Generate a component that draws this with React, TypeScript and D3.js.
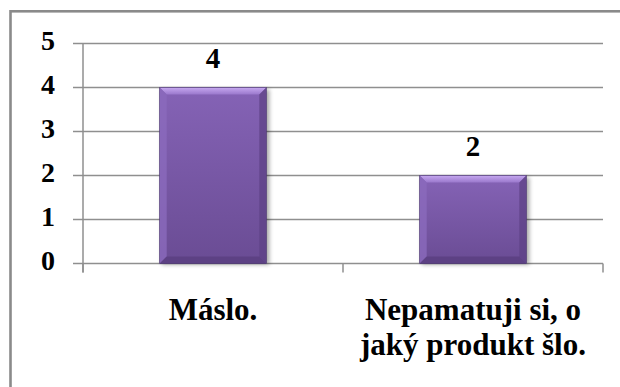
import React from "react";
import * as d3 from "d3";

// Answer counts per product
const categories: string[] = ["Máslo.", "Nepamatuji si, o jaký produkt šlo."];
const categoryLines: string[][] = [["Máslo."], ["Nepamatuji si, o", "jaký produkt šlo."]];
const values: number[] = [4, 2];
const yTicks: number[] = [0, 1, 2, 3, 4, 5];

const W = 620;
const H = 387;
const plot = { left: 83, right: 603, top: 43.5, bottom: 263.5 };
const FONT = "Liberation Serif";
const GRID = "#8f8f8f";

export default function App() {
  const x = d3.scaleBand<string>().domain(categories).range([plot.left, plot.right]).padding(0);
  const y = d3.scaleLinear().domain([0, 5]).range([plot.bottom, plot.top]);
  const barW = x.bandwidth() * 0.41;
  const bev = 7;

  return (
    <svg
      width={W}
      height={H}
      style={{ position: "absolute", left: 0, top: 0, background: "#fff" }}
    >
      <defs>
        <linearGradient id="body" x1="0" y1="0" x2="0" y2="1">
          <stop offset="0" stopColor="#8563b6" />
          <stop offset="1" stopColor="#6a4c94" />
        </linearGradient>
        <linearGradient id="topBev" x1="0" y1="0" x2="0" y2="1">
          <stop offset="0" stopColor="#c6a8f0" />
          <stop offset="1" stopColor="#9a78cc" />
        </linearGradient>
        <filter id="shadow" x="-20%" y="-20%" width="150%" height="150%">
          <feGaussianBlur stdDeviation="2" />
        </filter>
      </defs>

      {/* outer frame */}
      <rect x={10.5} y={11.3} width={W} height={H} fill="none" stroke="#8a8a8a" strokeWidth={2.6} />

      {/* gridlines */}
      {yTicks.map((t) => (
        <line
          key={`g${t}`}
          x1={73}
          x2={plot.right}
          y1={y(t)}
          y2={y(t)}
          stroke={GRID}
          strokeWidth={1.5}
        />
      ))}
      {/* y axis */}
      <line x1={plot.left} x2={plot.left} y1={plot.top} y2={plot.bottom + 9} stroke={GRID} strokeWidth={1.5} />
      {/* category ticks */}
      {[plot.left, ...categories.map((c) => (x(c) as number) + x.bandwidth())].map((px, i) => (
        <line key={`t${i}`} x1={px} x2={px} y1={plot.bottom} y2={plot.bottom + 9} stroke={GRID} strokeWidth={1.5} />
      ))}

      {/* y tick labels */}
      {yTicks.map((t) => (
        <text
          key={`l${t}`}
          x={55}
          y={y(t) + 6}
          textAnchor="end"
          fontFamily={FONT}
          fontWeight="bold"
          fontSize={28}
          fill="#000"
        >
          {t}
        </text>
      ))}

      {/* bars */}
      {categories.map((c, i) => {
        const cx = (x(c) as number) + x.bandwidth() / 2;
        const x0 = cx - barW / 2;
        const x1 = cx + barW / 2;
        const y0 = y(values[i]);
        const y1 = y(0);
        return (
          <g key={c}>
            <rect x={x0 + 2} y={y0 + 2} width={barW + 1} height={y1 - y0 - 1} fill="#000" opacity={0.35} filter="url(#shadow)" />
            <rect x={x0} y={y0} width={barW} height={y1 - y0} fill="url(#body)" />
            <polygon points={`${x0},${y0} ${x1},${y0} ${x1 - bev},${y0 + bev} ${x0 + bev},${y0 + bev}`} fill="url(#topBev)" />
            <polygon points={`${x0},${y0} ${x0 + bev},${y0 + bev} ${x0 + bev},${y1 - bev} ${x0},${y1}`} fill="#8b6abd" opacity={0.8} />
            <polygon points={`${x1},${y0} ${x1 - bev},${y0 + bev} ${x1 - bev},${y1 - bev} ${x1},${y1}`} fill="#5e4286" opacity={0.75} />
            <polygon points={`${x0},${y1} ${x0 + bev},${y1 - bev} ${x1 - bev},${y1 - bev} ${x1},${y1}`} fill="#5a3f80" opacity={0.8} />
            <rect x={x0} y={y0} width={barW} height={y1 - y0} fill="none" stroke="#4a3470" strokeWidth={0.6} />
            <text
              x={cx}
              y={y0 - 20}
              textAnchor="middle"
              fontFamily={FONT}
              fontWeight="bold"
              fontSize={29}
              fill="#000"
            >
              {values[i]}
            </text>
            {categoryLines[i].map((ln, j) => (
              <text
                key={j}
                x={cx}
                y={320 + j * 35}
                textAnchor="middle"
                fontFamily={FONT}
                fontWeight="bold"
                fontSize={31}
                fill="#000"
              >
                {ln}
              </text>
            ))}
          </g>
        );
      })}
    </svg>
  );
}
